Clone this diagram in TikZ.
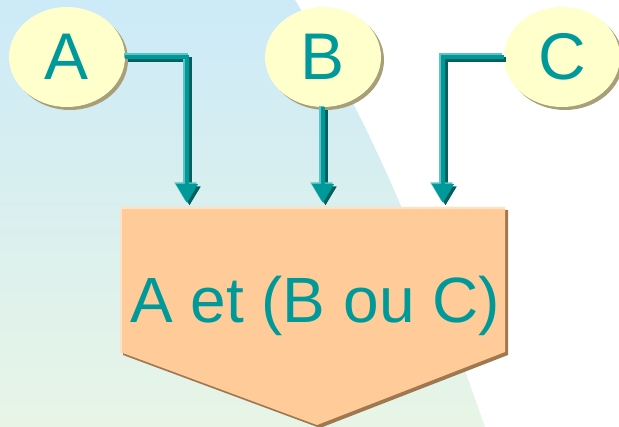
\documentclass[tikz,border=0pt]{standalone}
\usepackage{fontspec}
\setmainfont{Liberation Sans}
\usetikzlibrary{shapes.geometric,arrows.meta,shadows}
\definecolor{tealm}{HTML}{009999}
\definecolor{teall}{HTML}{5CC4C4}
\definecolor{teald}{HTML}{006060}
\definecolor{ellfill}{HTML}{FFFFCC}
\definecolor{ellshadow}{HTML}{A89E78}
\definecolor{boxfill}{HTML}{FFCC99}
\definecolor{boxshadow}{HTML}{A07850}
\definecolor{boxlight}{HTML}{FFE2C4}
\definecolor{bgtop}{HTML}{CCEAF8}
\definecolor{bgbot}{HTML}{E8F5E6}
\tikzset{
  ellnode/.style={ellipse, fill=ellfill, minimum width=116pt, minimum height=100pt,
    inner sep=0pt, text=tealm, font=\fontsize{66}{66}\selectfont,
    copy shadow={shadow xshift=3pt, shadow yshift=-3pt, fill=ellshadow, draw=none}},
  tipd/.style={-{Triangle[length=19pt,width=21pt]}},
  arrdark/.style={tipd, line width=5pt, draw=teald},
  arrlight/.style={tipd, line width=5pt, draw=teall},
  arrmain/.style={tipd, line width=4pt, draw=tealm},
}
\begin{document}
\begin{tikzpicture}[x=1pt,y=-1pt]
\useasboundingbox (0,0) rectangle (619,427);
% background
\shade[top color=bgtop, bottom color=bgbot]
  (0,0) -- (295,0) .. controls (382,140) and (436,287) .. (485,427) -- (0,427) -- cycle;
% output box
\fill[boxshadow] (123,210) -- (508,210) -- (508,355) -- (320,428) -- (123,355) -- cycle;
\fill[boxfill] (120,207) -- (505,207) -- (505,352) -- (317,425) -- (120,352) -- cycle;
\draw[boxlight, line width=1.5pt] (121,352) -- (121,208) -- (505,208);
\node[text=tealm, font=\fontsize{64}{64}\selectfont, anchor=base, inner sep=0pt]
  (out) at (315,323) {A et (B ou C)};
\coordinate (pa) at (187,203);
\coordinate (pb) at (323,203);
\coordinate (pc) at (443,203);
% ellipses
\node[ellnode] (a) at (67,57) {A};
\node[ellnode] (b) at (323,57) {B};
\node[ellnode] (c) at (562,57) {C};
% connectors
\begin{scope}[transform canvas={shift={(2.5pt,-2.5pt)}}]
  \draw[arrdark] (a.east) -- (a.east -| pa) -- (pa);
  \draw[arrdark] (b.south) -- (pb);
  \draw[arrdark] (c.west) -- (c.west -| pc) -- (pc);
\end{scope}
\begin{scope}[transform canvas={shift={(-1.5pt,1.5pt)}}]
  \draw[arrlight] (a.east) -- (a.east -| pa) -- (pa);
  \draw[arrlight] (b.south) -- (pb);
  \draw[arrlight] (c.west) -- (c.west -| pc) -- (pc);
\end{scope}
\draw[arrmain] (a.east) -- (a.east -| pa) -- (pa);
\draw[arrmain] (b.south) -- (pb);
\draw[arrmain] (c.west) -- (c.west -| pc) -- (pc);
\end{tikzpicture}
\end{document}
